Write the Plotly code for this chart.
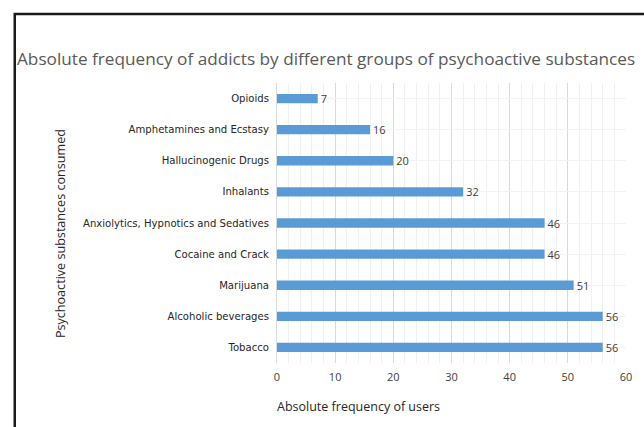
import plotly.graph_objects as go

# Substance groups (bottom to top) and number of users in each
categories = [
    "Tobacco",
    "Alcoholic beverages",
    "Marijuana",
    "Cocaine and Crack",
    "Anxiolytics, Hypnotics and Sedatives",
    "Inhalants",
    "Hallucinogenic Drugs",
    "Amphetamines and Ecstasy",
    "Opioids",
]
users = [56, 56, 51, 46, 46, 32, 20, 16, 7]
x_ticks = [0, 10, 20, 30, 40, 50, 60]

W, H = 644, 427
L, R, T, B = 277, 13, 83, 64
pw, ph = W - L - R, H - T - B

fig = go.Figure(
    go.Bar(
        x=users,
        y=categories,
        orientation="h",
        marker=dict(color="#5B9BD5", line=dict(width=0)),
        width=0.3,
        text=[str(v) for v in users],
        textposition="outside",
        constraintext="none",
        textfont=dict(family="Open Sans, sans-serif", size=11, color="#404040"),
        cliponaxis=False,
    )
)

fig.update_layout(
    width=W,
    height=H,
    margin=dict(l=L, r=R, t=T, b=B),
    paper_bgcolor="white",
    plot_bgcolor="white",
    showlegend=False,
    bargap=0.7,
    uniformtext=dict(mode=False),
    xaxis=dict(
        range=[0, 60],
        tickvals=x_ticks,
        showgrid=True,
        gridcolor="#D9D9D9",
        gridwidth=1,
        minor=dict(dtick=2, showgrid=True, gridcolor="#F0F0F0", gridwidth=1),
        zeroline=False,
        ticks="",
        tickfont=dict(family="Open Sans, sans-serif", size=11, color="#404040"),
        ticklabelstandoff=6,
        fixedrange=True,
    ),
    yaxis=dict(
        categoryorder="array",
        categoryarray=categories,
        range=[-0.5, 8.5],
        showgrid=True,
        gridcolor="#F3F3F3",
        showline=True,
        linecolor="#D9D9D9",
        linewidth=1,
        ticks="",
        ticklabelstandoff=5,
        tickfont=dict(family="DejaVu Sans, sans-serif", size=10.1, color="#262626"),
        fixedrange=True,
    ),
)

# Chart title
fig.add_annotation(
    text="Absolute frequency of addicts by different groups of psychoactive substances",
    xref="paper", yref="paper",
    x=(11 - L) / pw, y=(H - B - 58) / ph,
    xanchor="left", yanchor="middle",
    showarrow=False,
    font=dict(family="Open Sans, sans-serif", size=17.2, color="#595959"),
)

# Axis titles
fig.add_annotation(
    text="Absolute frequency of users",
    xref="paper", yref="paper",
    x=(275 - L) / pw, y=(H - B - 407) / ph,
    xanchor="left", yanchor="middle",
    showarrow=False,
    font=dict(family="Open Sans, sans-serif", size=12.5, color="#262626"),
)
fig.add_annotation(
    text="Psychoactive substances consumed",
    xref="paper", yref="paper",
    x=(57 - L) / pw, y=(H - B - 234) / ph,
    xanchor="center", yanchor="middle",
    textangle=-90,
    showarrow=False,
    font=dict(family="Open Sans, sans-serif", size=12.6, color="#262626"),
)

# Frame around the chart (continues past the right and bottom edges)
fig.add_shape(
    type="rect",
    xref="paper", yref="paper",
    x0=(11 - L) / pw, x1=(720 - L) / pw,
    y0=(H - B - 480) / ph, y1=(H - B - 14) / ph,
    line=dict(color="#1A1A1A", width=2.5),
    fillcolor="rgba(0,0,0,0)",
    layer="above",
)

fig.write_html("out.html")
